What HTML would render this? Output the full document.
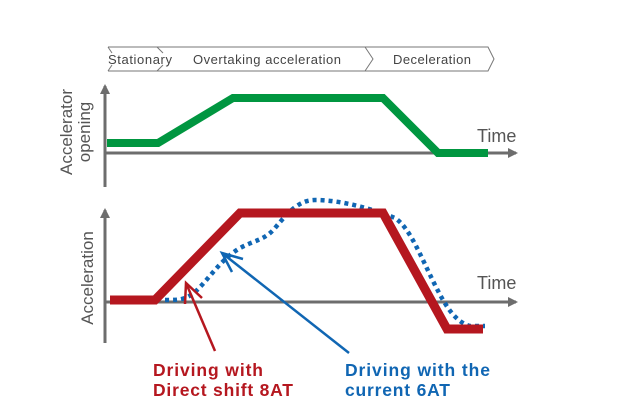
<!DOCTYPE html>
<html><head><style>body{margin:0;background:#fff}svg{display:block}</style></head><body>
<svg width="620" height="414" viewBox="0 0 620 414" xmlns="http://www.w3.org/2000/svg" font-family="Liberation Sans, DejaVu Sans, sans-serif">
<defs>
<marker id="ga" markerWidth="10" markerHeight="10" refX="8" refY="5" orient="auto" markerUnits="userSpaceOnUse"><path d="M0,0 L10,5 L0,10 Z" fill="#6d6d6d"/></marker>
</defs>
<g fill="none" stroke="#777" stroke-width="1">
<path d="M108,47 L488,47 L494,59 L488,71 L108,71"/>
<path d="M108,47 L112,53 M108,71 L112,65"/>
<path d="M157,47 L163,53 M157,71 L163,65"/>
<path d="M365,47 L373,59 L365,71"/>
</g>
<g font-size="13" fill="#444">
<text x="108" y="64" textLength="64">Stationary</text>
<text x="193" y="64" textLength="148">Overtaking acceleration</text>
<text x="393" y="64" textLength="78">Deceleration</text>
</g>
<g stroke="#6d6d6d" stroke-width="3" fill="none">
<line x1="105" y1="187" x2="105" y2="86" marker-end="url(#ga)"/>
<line x1="105" y1="153" x2="516" y2="153" marker-end="url(#ga)"/>
<line x1="105" y1="343" x2="105" y2="210" marker-end="url(#ga)"/>
<line x1="105" y1="302" x2="516" y2="302" marker-end="url(#ga)"/>
</g>
<polyline points="107,143 158,143 233,98 383,98 438,153 488,153" fill="none" stroke="#009640" stroke-width="8"/>
<text x="477" y="142" font-size="18" fill="#555">Time</text>
<text x="477" y="289" font-size="18" fill="#555">Time</text>
<text transform="translate(72,132) rotate(-90)" font-size="17" fill="#555" text-anchor="middle">Accelerator</text>
<text transform="translate(90,132) rotate(-90)" font-size="17" fill="#555" text-anchor="middle">opening</text>
<text transform="translate(93,278) rotate(-90)" font-size="17" fill="#555" text-anchor="middle">Acceleration</text>
<path d="M165,300 C180,300 185,300 195,292 C210,278 220,260 240,248 C255,240 265,240 275,228 C290,210 300,200 315,200 C340,200 370,208 395,218 C410,228 420,255 435,285 C445,305 455,322 470,326 L485,326" fill="none" stroke="#1066b3" stroke-width="4.5" stroke-dasharray="4,4"/>
<polyline points="110,300 155,300 240,213 383,213 447,329 483,329" fill="none" stroke="#b5171f" stroke-width="9"/>
<g stroke="#b5171f" stroke-width="2.5" fill="none">
<line x1="215" y1="351" x2="186" y2="283"/>
<path d="M185,304 L186,283 L202,298"/>
</g>
<g stroke="#1066b3" stroke-width="2.5" fill="none">
<line x1="349" y1="353" x2="222" y2="253"/>
<path d="M232,272 L222,253 L243,259"/>
</g>
<g font-size="17.5" font-weight="bold">
<text x="153" y="376" fill="#b5171f" textLength="110">Driving with</text>
<text x="153" y="396" fill="#b5171f" textLength="140">Direct shift 8AT</text>
<text x="345" y="376" fill="#1066b3" textLength="145">Driving with the</text>
<text x="345" y="396" fill="#1066b3" textLength="105">current 6AT</text>
</g>
</svg>
</body></html>
